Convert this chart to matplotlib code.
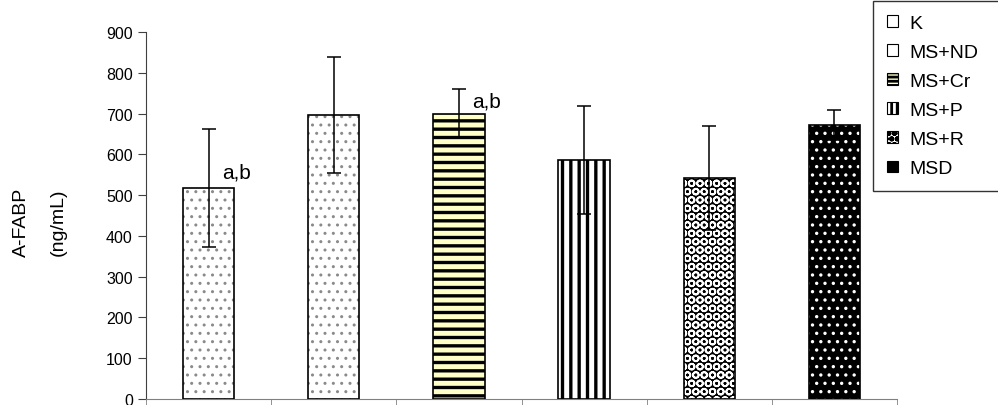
import matplotlib
matplotlib.use("Agg")
import matplotlib.pyplot as plt
import numpy as np
from matplotlib.patches import Patch

plt.rcParams['font.family'] = ['Liberation Sans', 'DejaVu Sans']

groups = ["K", "MS+ND", "MS+Cr", "MS+P", "MS+R", "MSD"]
means = [517, 696, 700, 586, 542, 671]
sds = [145, 143, 60, 132, 128, 37]
annot_groups = ["K", "MS+Cr"]
annot_text = "a,b"
annot_y = [544, 718]
yticks = [0, 100, 200, 300, 400, 500, 600, 700, 800, 900]

faces = ["white", "white", "#FFFFC8", "white", "black", "black"]
hatches = ["..", "..", "--", "||", "OO", ".."]
hatch_colors = ["#8a8a8a", "#8a8a8a", "black", "black", "white", "white"]
hatch_lw = [1.0, 1.0, 2.4, 2.4, 1.3, 1.2]

leg_faces = ["white", "white", "#FFFFC8", "white", "white", "black"]
leg_hatches = [None, None, "----", "|||", "ooo", None]

fig = plt.figure(figsize=(9.98, 4.06), dpi=100)
ax = fig.add_axes([146/998, 1-400/406, 751/998, 367/406])

x = np.arange(len(groups))
w = 0.41

def hbar(xi, h, face, hatch, hc, hl):
    with plt.rc_context({'hatch.linewidth': hl}):
        ax.bar(xi, h, w, color=face, edgecolor='none', linewidth=0, zorder=2)
        b = ax.bar(xi, h, w, fill=False, edgecolor=hc, hatch=hatch, linewidth=0, zorder=3)
        for p in b:
            if hasattr(p, 'set_hatch_linewidth'):
                p.set_hatch_linewidth(hl)
        ax.bar(xi, h, w, fill=False, edgecolor='black', linewidth=1.2, zorder=4)

for i in range(len(groups)):
    hbar(x[i], means[i], faces[i], hatches[i], hatch_colors[i], hatch_lw[i])

ax.errorbar(x, means, yerr=sds, fmt='none', ecolor='black', elinewidth=1.1,
            capsize=5, capthick=1.1, zorder=5)

for g, yy in zip(annot_groups, annot_y):
    i = groups.index(g)
    ax.text(x[i] + 0.105, yy, annot_text, fontsize=15, ha='left', va='baseline', zorder=6)

ax.set_xlim(-0.5, len(groups) - 0.5)
ax.set_ylim(0, 900)
ax.set_yticks(yticks)
ax.set_yticklabels([str(t) for t in yticks], fontsize=11.5)
ax.set_xticks([])
ax.set_xticks(np.arange(len(groups) + 1) - 0.5, minor=True)
ax.tick_params(axis='x', which='minor', length=5, direction='out', color='#808080', labelbottom=False)
ax.tick_params(axis='y', length=6, direction='out', color='#404040', pad=3.5)
for s in ['top', 'right']:
    ax.spines[s].set_visible(False)
ax.spines['left'].set_color('#404040')
ax.spines['bottom'].set_color('#808080')

fig.text(21/998, 1-222/406, "A-FABP", rotation=90, ha='center', va='center', fontsize=14)
fig.text(58/998, 1-222/406, "(ng/mL)", rotation=90, ha='center', va='center', fontsize=14)

handles = []
with plt.rc_context({'hatch.linewidth': 2.0}):
    for i in range(len(groups)):
        p = Patch(facecolor=leg_faces[i], edgecolor='black', hatch=leg_hatches[i], linewidth=0.8)
        if hasattr(p, 'set_hatch_linewidth'):
            p.set_hatch_linewidth(2.0)
        handles.append(p)
    leg = fig.legend(handles, groups, loc='upper left',
                     bbox_to_anchor=(873/998, 1-2/406, 140/998, 0.0),
                     mode='expand', fontsize=14, frameon=True, fancybox=False,
                     edgecolor='black', handlelength=0.55, handleheight=0.55,
                     handletextpad=0.6, labelspacing=0.62, borderpad=0.72, borderaxespad=0)
leg.get_frame().set_linewidth(1.0)

fig.savefig("out.png", dpi=100)
